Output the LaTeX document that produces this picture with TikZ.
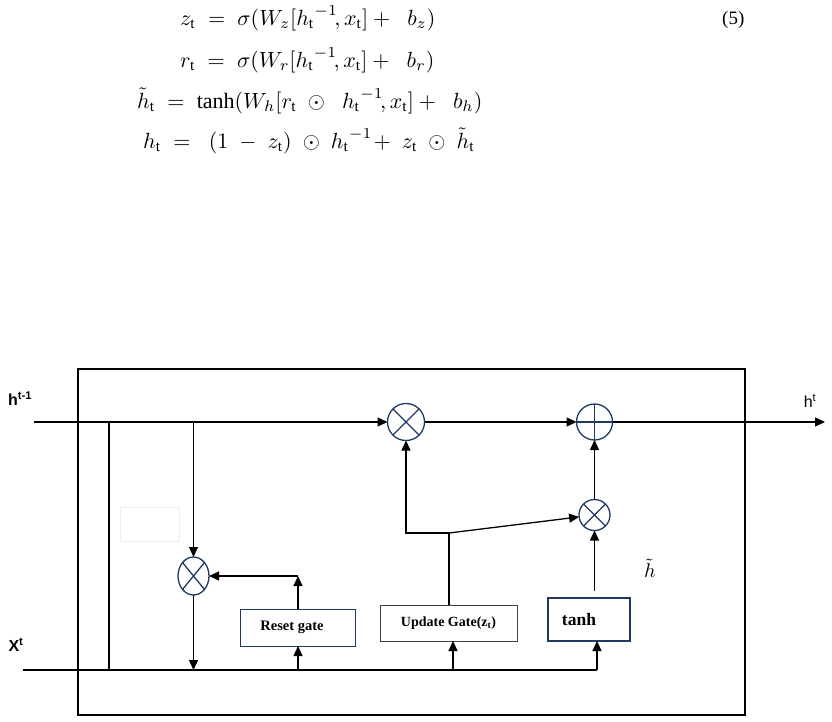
\documentclass[tikz,border=0pt]{standalone}
\usepackage{graphicx}
\usepackage{fontspec}
\setmainfont{Liberation Serif}
\newfontfamily\sansf{Liberation Sans}
\usetikzlibrary{arrows.meta,shapes.geometric,calc}
\definecolor{navy}{RGB}{32,56,100}
\newcommand{\eqbox}[1]{\scalebox{2.2}{\fontsize{10}{12}\selectfont$#1$}}
\begin{document}
\begin{tikzpicture}[x=1pt,y=-1pt,
  wire/.style={line width=1.3pt, black},
  arr/.style={wire, -{Triangle[length=10pt,width=9pt]}},
  opnode/.style={circle, draw=navy, line width=1.3pt, inner sep=0pt, outer sep=0pt},
  opline/.style={draw=navy, line width=1.3pt},
  gatebox/.style={rectangle, inner sep=0pt, outer sep=0pt, font=\bfseries\fontsize{14.5}{16}\selectfont},
  eq/.style={anchor=base west, inner sep=0pt},
  lbl/.style={inner sep=0pt, font=\sansf\fontsize{16}{18}\selectfont}]
\useasboundingbox (0,0) rectangle (832,722);

% equations
\node[eq] (e1) at (180,25.5) {\eqbox{z_{\mathrm t} \;=\; \sigma(W_z[{h_{\mathrm t}}^{-1}\!, x_{\mathrm t}] +\;\; b_z)}};
\node[eq] (e2) at (180,67.5) {\eqbox{r_{\mathrm t} \;=\; \sigma(W_r[{h_{\mathrm t}}^{-1}\!, x_{\mathrm t}] +\;\; b_r)}};
\node[eq] (e3) at (137,108.5) {\eqbox{\tilde h_{\mathrm t} \;=\; \tanh(W_h[r_{\mathrm t} \;\odot\;\; {h_{\mathrm t}}^{-1}\!, x_{\mathrm t}] +\;\; b_h)}};
\node[eq] (e4) at (143,148.5) {\eqbox{h_{\mathrm t} \;=\;\; (1 \;-\; z_{\mathrm t}) \;\odot\; {h_{\mathrm t}}^{-1} \!+\; z_{\mathrm t} \;\odot\; \tilde h_{\mathrm t}}};
\node[anchor=base west, inner sep=0pt, font=\fontsize{19}{22}\selectfont] (num) at (722,25) {(5)};

% outer cell
\node[draw, line width=1.3pt, minimum width=667pt, minimum height=346pt, inner sep=0pt] (cell) at (411.5,542) {};

% faint empty box
\node[draw=black!7, line width=1pt, minimum width=59pt, minimum height=34pt, inner sep=0pt] (blank) at (149.5,524) {};

% operators
\node[opnode, minimum size=37pt] (m1) at (406,422) {};
\draw[opline] (m1.north west) -- (m1.south east) (m1.north east) -- (m1.south west);
\node[opnode, minimum size=36pt] (plus) at (594.5,422) {};
\draw[opline] (plus.north) -- (plus.south) (plus.west) -- (plus.east);
\node[opnode, minimum size=31pt] (m3) at (594.5,515) {};
\draw[opline] (m3.north west) -- (m3.south east) (m3.north east) -- (m3.south west);
\node[ellipse, draw=navy, line width=1.3pt, inner sep=0pt, outer sep=0pt, minimum width=31pt, minimum height=38pt] (m2) at (193.5,576) {};
\draw[opline] (m2.north west) -- (m2.south east) (m2.north east) -- (m2.south west);

% gate boxes
\node[gatebox, draw=navy, line width=0.9pt, minimum width=115pt, minimum height=37pt] (reset) at (298,627.5) {Reset gate\hspace*{12pt}};
\node[gatebox, draw=black!75, line width=0.9pt, minimum width=137pt, minimum height=36pt, font=\bfseries\fontsize{14}{15}\selectfont] (upd) at (448.5,623) {Update Gate(z\textsubscript{t})};
\node[gatebox, draw=navy, line width=1.5pt, minimum width=82pt, minimum height=43pt, font=\bfseries\fontsize{17.5}{19}\selectfont] (tanh) at (589,619.5) {tanh\hspace*{20pt}};

% labels
\node[lbl, font=\sansf\bfseries\fontsize{16}{18}\selectfont] (lh) at (20,399) {h\textsuperscript{t-1}};
\node[lbl] (lht) at (810,401) {h\textsuperscript{t}};
\node[lbl, font=\sansf\bfseries\fontsize{16}{18}\selectfont] (lx) at (16,645) {X\textsuperscript{t}};
\node[inner sep=0pt] (lhtil) at (650,568) {\scalebox{2}{\fontsize{10}{12}\selectfont$\tilde h$}};

% coordinates
\coordinate (hin) at (34,422);
\coordinate (hout) at (825,422);
\coordinate (xin) at (23,670);
\coordinate (xend) at (597,670);
\coordinate (ja) at (109,422);
\coordinate (jab) at (109,670);
\coordinate (jb) at (193.5,422);
\coordinate (jbb) at (193.5,670);
\coordinate (rb) at (298,670);
\coordinate (rc) at (298,576);
\coordinate (ub) at (453,670);
\coordinate (uc) at (449,533);
\coordinate (ul) at (406,533);
\coordinate (tt) at (594.5,591);

% connectors
\draw[arr] (hin) -- (m1);
\draw[arr] (m1) -- (plus);
\draw[arr] (plus) -- (hout);
\draw[wire] (xin) -- (xend);
\draw[wire] (ja) -- (jab);
\draw[arr] (jb) -- (m2);
\draw[arr] (m2) -- (jbb);
\draw[arr] (rb) -- (rb |- reset.south);
\draw[arr] (reset.north) -- (rc);
\draw[arr] (rc) -- (m2);
\draw[arr] (ub) -- (ub |- upd.south);
\draw[arr] (uc |- upd.north) -- (uc) -- (ul) -- (m1);
\draw[arr] (uc) -- (m3);
\draw[arr] (xend) -- (xend |- tanh.south);
\draw[arr] (tt) -- (m3);
\draw[arr] (m3) -- (plus);
\end{tikzpicture}
\end{document}
